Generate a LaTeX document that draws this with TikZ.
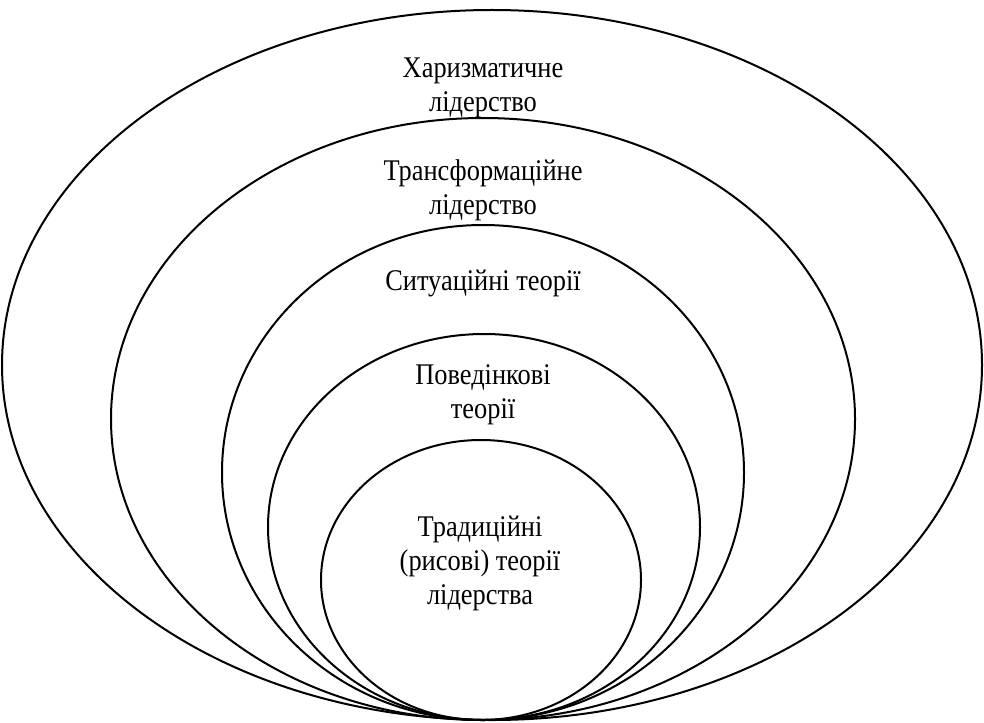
\documentclass[tikz,border=0pt]{standalone}
\usepackage{fontspec}
\newfontfamily\lblfont[FakeStretch=0.88]{Liberation Serif}
\begin{document}
\begin{tikzpicture}[x=1pt,y=-1pt,
  ring/.style={draw=black,line width=2pt},
  lbl/.style={align=center,font=\lblfont\fontsize{30}{34}\selectfont,inner sep=0pt}]
\useasboundingbox (0,0) rectangle (984,722);
\draw[ring] (492,365) ellipse [x radius=490pt,y radius=355pt];
\draw[ring] (483,419) ellipse [x radius=372pt,y radius=301pt];
\draw[ring] (483,472.5) ellipse [x radius=261pt,y radius=247.5pt];
\draw[ring] (484,527) ellipse [x radius=216pt,y radius=193pt];
\draw[ring] (481,580) ellipse [x radius=160pt,y radius=140pt];
\node[lbl] (t1) at (483,88) {Харизматичне\\лідерство};
\node[lbl] (t2) at (483,190) {Трансформаційне\\лідерство};
\node[lbl] (t3) at (483,283) {Ситуаційні теорії};
\node[lbl] (t4) at (483,395) {Поведінкові\\теорії};
\node[lbl] (t5) at (480,563) {Традиційні\\(рисові) теорії\\лідерства};
\end{tikzpicture}
\end{document}
